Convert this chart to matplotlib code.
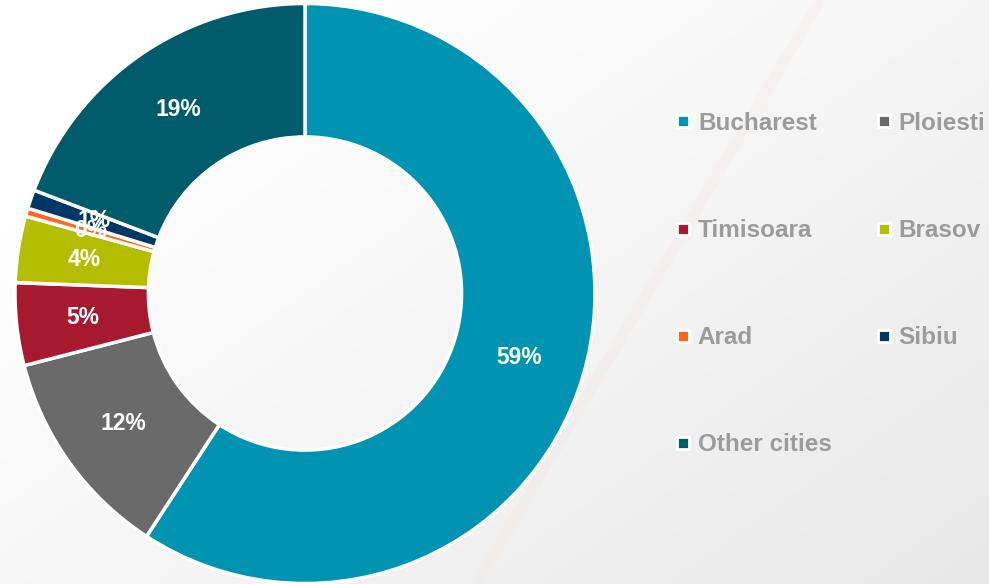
import numpy as np
import matplotlib.pyplot as plt
from matplotlib.lines import Line2D

plt.rcParams["font.family"] = ["Liberation Sans", "DejaVu Sans"]

# data (clockwise from 12 o'clock)
cities = ["Bucharest", "Ploiesti", "Timisoara", "Brasov", "Arad", "Sibiu", "Other cities"]
shares = [59.2, 11.8, 4.6, 3.7, 0.45, 1.05, 19.2]
colors = ["#0093B2", "#6A6A6A", "#A6192E", "#B5BD00", "#FF671F", "#003865", "#005B6B"]

W, H = 989, 584
fig = plt.figure(figsize=(W / 100, H / 100), dpi=100)

# soft grey backdrop, white at top-left fading to light grey bottom-right
bg = fig.add_axes([0, 0, 1, 1], zorder=0)
yy, xx = np.mgrid[0:1:200j, 0:1:300j]
shade = 1.0 - 0.10 * np.clip(0.6 * xx + 0.5 * yy - 0.2, 0, 1)
bg.imshow(np.dstack([shade, shade, shade]), extent=[0, 1, 0, 1],
          aspect="auto", origin="upper")
bg.plot([820 / W, 476 / W], [1, 0], color="#F4A47A", lw=8, alpha=0.04,
        solid_capstyle="butt")
bg.set_xlim(0, 1)
bg.set_ylim(0, 1)
bg.axis("off")

# donut: centre (305, 293.5) px, outer radius 290 px
cx, cy, r = 305, 293.5, 290
ax = fig.add_axes([(cx - r) / W, (H - cy - r) / H, 2 * r / W, 2 * r / H], zorder=1)
wedges, texts, autotexts = ax.pie(
    shares, colors=colors, startangle=90, counterclock=False,
    autopct="%.0f%%", pctdistance=0.77, radius=1,
    wedgeprops=dict(width=0.46, edgecolor="white", linewidth=2.5),
    textprops=dict(color="white", fontsize=16.5, fontweight="bold"))
ax.set_xlim(-1, 1)
ax.set_ylim(-1, 1)
ax.set_aspect("equal")
ax.axis("off")

# legend, row-major order in two columns
handles = [Line2D([], [], marker="s", linestyle="none", markersize=8,
                  markerfacecolor=c, markeredgecolor="white", markeredgewidth=2)
           for c in colors]
order = [0, 2, 4, 6, 1, 3, 5]
fig.legend([handles[i] for i in order], [cities[i] for i in order],
           ncol=2, loc="upper left", bbox_to_anchor=(676 / W, 1 - 112 / H),
           frameon=False, labelspacing=3.46,
           handlelength=0.6, handletextpad=0.3, columnspacing=1.85,
           borderpad=0, borderaxespad=0,
           prop=dict(weight="bold", size=17.5), labelcolor="#9B9B9B")

fig.savefig("out.png", dpi=100)
